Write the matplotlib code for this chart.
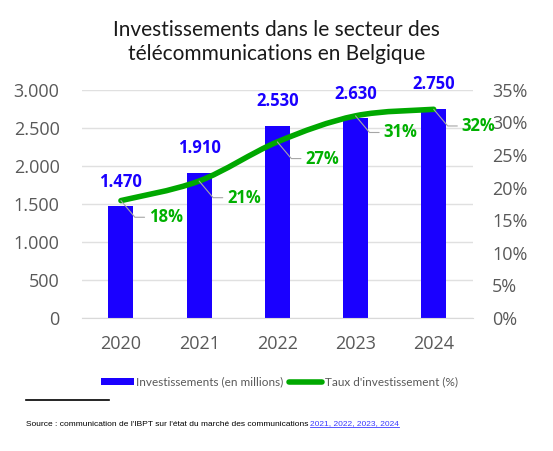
import matplotlib
matplotlib.use('Agg')
import matplotlib.pyplot as plt
from matplotlib.path import Path
from matplotlib.patches import PathPatch, Patch
from matplotlib.lines import Line2D

years = ['2020', '2021', '2022', '2023', '2024']
invest = [1470, 1910, 2530, 2630, 2750]
invest_labels = ['1.470', '1.910', '2.530', '2.630', '2.750']
taux = [0.18, 0.21, 0.27, 0.31, 0.32]
taux_labels = ['18%', '21%', '27%', '31%', '32%']
left_ticks = [0, 500, 1000, 1500, 2000, 2500, 3000]
left_ticklabels = ['0', '500', '1.000', '1.500', '2.000', '2.500', '3.000']
right_ticks = [0, 0.05, 0.10, 0.15, 0.20, 0.25, 0.30, 0.35]
right_ticklabels = ['0%', '5%', '10%', '15%', '20%', '25%', '30%', '35%']

BLUE = '#1a00ff'
GREEN = '#00a800'
GREEN_TXT = '#00b000'
GREY = '#595959'
FONT = 'Open Sans'


def smooth_path(xs, ys):
    # catmull-rom -> bezier, like excel smoothed lines
    verts = [(xs[0], ys[0])]
    codes = [Path.MOVETO]
    n = len(xs)
    for i in range(n - 1):
        x0, y0 = (xs[i - 1], ys[i - 1]) if i > 0 else (xs[i], ys[i])
        x1, y1 = xs[i], ys[i]
        x2, y2 = xs[i + 1], ys[i + 1]
        x3, y3 = (xs[i + 2], ys[i + 2]) if i + 2 < n else (x2, y2)
        verts += [(x1 + (x2 - x0) / 6, y1 + (y2 - y0) / 6),
                  (x2 - (x3 - x1) / 6, y2 - (y3 - y1) / 6),
                  (x2, y2)]
        codes += [Path.CURVE4] * 3
    return Path(verts, codes)


def main():
    fig = plt.figure(figsize=(5.53, 4.51), dpi=100)
    ax = fig.add_axes([0.148, 0.295, 0.707, 0.506])
    ax2 = ax.twinx()

    x = list(range(len(years)))
    ax.bar(x, invest, width=0.32, color=BLUE, zorder=2)
    ax.set_xlim(-0.5, len(years) - 0.5)
    ax.set_ylim(0, 3000)
    ax.set_yticks(left_ticks)
    ax.set_yticklabels(left_ticklabels)
    ax.set_xticks(x)
    ax.set_xticklabels(years)
    ax.grid(axis='y', color='#e0e0e0', linewidth=1, zorder=0)
    ax.set_axisbelow(True)
    ax.tick_params(axis='both', length=0, colors=GREY, labelsize=13)
    ax.tick_params(axis='y', pad=16)
    ax.tick_params(axis='x', pad=12)
    for lab in ax.get_xticklabels() + ax.get_yticklabels():
        lab.set_family(FONT)
    for s in ax.spines.values():
        s.set_visible(False)
    ax.spines['bottom'].set_visible(True)
    ax.spines['bottom'].set_color('#d9d9d9')

    for xi, v, lab in zip(x, invest, invest_labels):
        ax.annotate(lab, (xi, v), xytext=(0, 11), textcoords='offset points',
                    ha='center', va='bottom', color=BLUE, fontsize=12,
                    fontweight='bold', family=FONT)

    ax2.set_ylim(0, 0.35)
    ax2.set_yticks(right_ticks)
    ax2.set_yticklabels(right_ticklabels)
    ax2.tick_params(axis='y', length=0, colors=GREY, labelsize=13, pad=14)
    for lab in ax2.get_yticklabels():
        lab.set_family(FONT)
    for s in ax2.spines.values():
        s.set_visible(False)

    ax2.add_patch(PathPatch(smooth_path(x, taux), facecolor='none', edgecolor=GREEN,
                            linewidth=4, capstyle='round', joinstyle='round', zorder=3))

    for xi, v, lab in zip(x, taux, taux_labels):
        ax2.annotate(lab, (xi, v), xytext=(20, -12), textcoords='offset points',
                     ha='left', va='center', color=GREEN_TXT, fontsize=12,
                     fontweight='bold', family=FONT, zorder=4,
                     arrowprops=dict(arrowstyle='-', color='#a6a6a6', lw=0.8,
                                     shrinkA=1, shrinkB=0, relpos=(0, 0.5),
                                     connectionstyle='angle,angleA=0,angleB=-50,rad=0'))

    fig.text(0.5, 0.955, 'Investissements dans le secteur des\ntélécommunications en Belgique',
             ha='center', va='top', fontsize=15, color='#1a1a1a', family='Lato',
             linespacing=1.25)

    handles = [Patch(facecolor=BLUE), Line2D([], [], color=GREEN, lw=4, solid_capstyle='round')]
    fig.legend(handles, ['Investissements (en millions)', "Taux d'investissement (%)"],
               loc='center', bbox_to_anchor=(0.505, 0.153), ncol=2, frameon=False,
               prop={'family': 'Lato', 'size': 8.5}, labelcolor=GREY,
               handlelength=2.8, handleheight=0.6, handletextpad=0.2, columnspacing=0.5)

    fig.add_artist(Line2D([26 / 553, 109 / 553], [1 - 400 / 451] * 2, color='black', lw=1.2))
    src = fig.text(26 / 553, 1 - 424 / 451,
                   "Source : communication de l'IBPT sur l'état du marché des communications",
                   ha='left', va='center', fontsize=6.0, color='black', family='Liberation Sans')
    fig.canvas.draw()
    bb = src.get_window_extent()
    links = fig.text(bb.x1 / 553 + 0.003, 1 - 424 / 451, '2021, 2022, 2023, 2024',
                     ha='left', va='center', fontsize=6.0, color='#3b3bff', family='Liberation Sans')
    fig.canvas.draw()
    lb = links.get_window_extent()
    fig.add_artist(Line2D([lb.x0 / 553, lb.x1 / 553], [(lb.y0 + 0.5) / 451] * 2,
                          color='#3b3bff', lw=0.6))

    fig.savefig('out.png', dpi=100)
    plt.close(fig)


if __name__ == '__main__':
    main()
